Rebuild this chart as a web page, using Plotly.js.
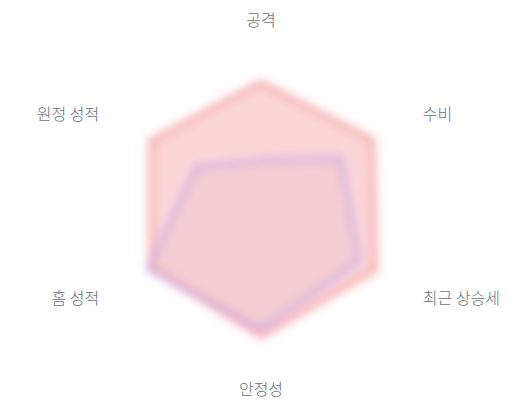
<!DOCTYPE html>
<html>
<head>
<meta charset="utf-8">
<script src="https://cdn.plot.ly/plotly-3.0.1.min.js"></script>
<style>
  html, body { margin: 0; padding: 0; background: #ffffff; }
  #chart { width: 520px; height: 400px; }
  .polarlayer .frontplot { filter: url(#softblur); }
</style>
</head>
<body>
<svg width="0" height="0" style="position:absolute">
  <defs>
    <filter id="softblur" x="-20%" y="-20%" width="140%" height="140%">
      <feGaussianBlur stdDeviation="5"/>
    </filter>
  </defs>
</svg>
<div id="chart"></div>
<script>
const categories = ['공격', '수비', '최근 상승세', '안정성', '홈 성적', '원정 성적'];
const teamA = [70, 74, 76, 76, 73, 73];
const teamB = [25, 53, 65, 72, 75, 43];

function closed(arr) { return arr.concat([arr[0]]); }

// extra spacing between the side labels and the chart (labels on the right get
// leading spacing, labels on the left get trailing spacing)
const gap = '\u00A0\u00A0\u00A0';
const n = categories.length;
const tickText = categories.map(function (c, i) {
  const ang = (90 - i * 360 / n) * Math.PI / 180;
  const cx = Math.cos(ang);
  if (cx > 0.1) return gap + c;
  if (cx < -0.1) return c + gap;
  return c;
});

const traces = [
  {
    type: 'scatterpolar',
    r: closed(teamA),
    theta: closed(categories),
    fill: 'toself',
    fillcolor: 'rgba(239, 68, 68, 0.22)',
    line: { color: 'rgba(239, 68, 68, 0.42)', width: 5 },
    mode: 'lines',
    hoverinfo: 'skip'
  },
  {
    type: 'scatterpolar',
    r: closed(teamB),
    theta: closed(categories),
    fill: 'toself',
    fillcolor: 'rgba(216, 160, 190, 0.16)',
    line: { color: 'rgba(150, 130, 230, 0.42)', width: 5 },
    mode: 'lines',
    hoverinfo: 'skip'
  }
];

const layout = {
  width: 520,
  height: 400,
  margin: { l: 61, r: 59, t: 30, b: 22 },
  paper_bgcolor: '#ffffff',
  showlegend: false,
  font: { family: '"Noto Sans CJK KR", "Noto Sans", sans-serif', color: '#6b7280', size: 16 },
  polar: {
    bgcolor: 'rgba(0,0,0,0)',
    radialaxis: {
      range: [0, 100],
      visible: false,
      showgrid: false,
      showline: false
    },
    angularaxis: {
      rotation: 90,
      direction: 'clockwise',
      showgrid: false,
      showline: false,
      ticks: '',
      tickmode: 'array',
      tickvals: categories,
      ticktext: tickText,
      tickfont: { size: 16, color: '#6b7280', weight: 300 }
    },
    gridshape: 'linear'
  }
};

Plotly.newPlot('chart', traces, layout, { displayModeBar: false, staticPlot: true });
</script>
</body>
</html>
